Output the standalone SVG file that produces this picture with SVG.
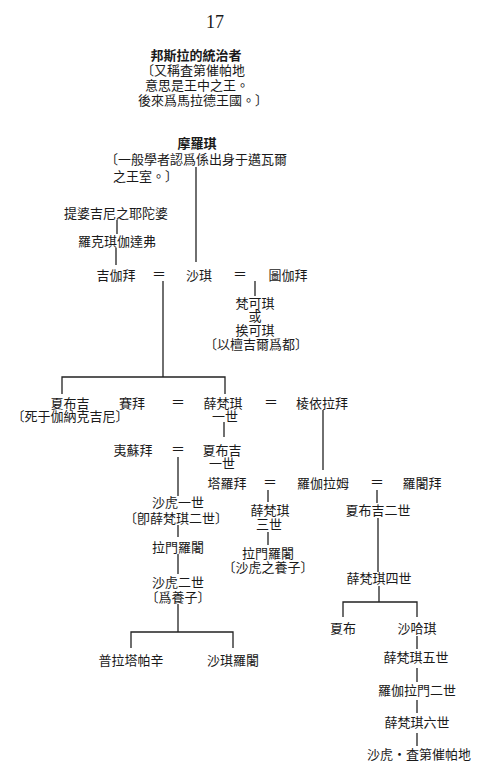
<svg xmlns="http://www.w3.org/2000/svg" width="492" height="772" viewBox="0 0 492 772">
<style>
.t{font-family:"Noto Sans CJK TC","Noto Sans CJK SC",sans-serif;font-size:13px;fill:#1a1a1a;text-anchor:middle}
.s{text-anchor:start}
.b{font-weight:bold}
.eq{font-family:"Noto Sans CJK TC",sans-serif;font-size:14px;fill:#1a1a1a;text-anchor:middle}
.c{fill:none;stroke:#222;stroke-width:1.3}
</style>
<rect width="492" height="772" fill="#fff"/>
<text x="215" y="28" style="font-family:'Liberation Serif',serif;font-size:18px;fill:#1a1a1a;text-anchor:middle">17</text>
<g id="connectors" class="c">
<path d="M196,167V262"/>
<path d="M117,220V234"/>
<path d="M116,248V265"/>
<path d="M255,281V296"/>
<path d="M163,281V377"/>
<path d="M62,394V377H225V394"/>
<path d="M224,422V437"/>
<path d="M323,410V470"/>
<path d="M178,457V496"/>
<path d="M178,525V537"/>
<path d="M178,554V574"/>
<path d="M178,604V632"/>
<path d="M131,648V632H233V648"/>
<path d="M268,490V502"/>
<path d="M268,532V545"/>
<path d="M377,490V503"/>
<path d="M378,518V572"/>
<path d="M379,586V602"/>
<path d="M343,617V602H417V617"/>
<path d="M417,636V649"/>
<path d="M417,668V682"/>
<path d="M417,700V713"/>
<path d="M417,733V746"/>
</g>
<g id="n-header">
<text class="t s"><tspan class="b" x="196" y="60" text-anchor="middle">邦斯拉的統治者</tspan><tspan x="141" y="75">〔又稱査第催帕地</tspan><tspan x="145" y="90">意思是王中之王。</tspan><tspan x="138" y="105">後來爲馬拉德王國。〕</tspan></text>
</g>
<g id="n-moro">
<text class="t s"><tspan class="b" x="197" y="148" text-anchor="middle">摩羅琪</tspan><tspan x="105" y="164">〔一般學者認爲係出身于邁瓦爾</tspan><tspan x="113" y="181">之王室。〕</tspan></text>
</g>
<g id="n-devagiri"><text class="t" x="116" y="218">提婆吉尼之耶陀婆</text></g>
<g id="n-lakhuji"><text class="t" x="117" y="246">羅克琪伽達弗</text></g>
<g id="n-jijabai"><text class="t" x="116" y="280">吉伽拜</text></g>
<g id="eq1"><text class="eq" x="159" y="279">＝</text></g>
<g id="n-shahji"><text class="t" x="199" y="280">沙琪</text></g>
<g id="eq2"><text class="eq" x="240" y="279">＝</text></g>
<g id="n-tukabai"><text class="t" x="288" y="280">圖伽拜</text></g>
<g id="n-venkoji">
<text class="t"><tspan x="255" y="308">梵可琪</tspan><tspan x="255" y="321">或</tspan><tspan x="255" y="335">挨可琪</tspan><tspan x="256" y="349">〔以檀吉爾爲都〕</tspan></text>
</g>
<g id="n-sambhaji-elder">
<text class="t"><tspan x="70" y="408">夏布吉</tspan><tspan x="70" y="421">〔死于伽納克吉尼〕</tspan></text>
</g>
<g id="n-saibai"><text class="t" x="132" y="408">賽拜</text></g>
<g id="eq3"><text class="eq" x="178" y="407">＝</text></g>
<g id="n-shivaji1">
<text class="t"><tspan x="223" y="408">薛梵琪</tspan><tspan x="225" y="421">一世</tspan></text>
</g>
<g id="eq4"><text class="eq" x="271" y="407">＝</text></g>
<g id="n-soyarabai"><text class="t" x="322" y="408">棱依拉拜</text></g>
<g id="n-yesubai"><text class="t" x="133" y="455">夷蘇拜</text></g>
<g id="eq5"><text class="eq" x="178" y="454">＝</text></g>
<g id="n-sambhaji1">
<text class="t"><tspan x="222" y="455">夏布吉</tspan><tspan x="222" y="468">一世</tspan></text>
</g>
<g id="n-tarabai"><text class="t" x="227" y="488">塔羅拜</text></g>
<g id="eq6"><text class="eq" x="270" y="487">＝</text></g>
<g id="n-rajaram"><text class="t" x="323" y="488">羅伽拉姆</text></g>
<g id="eq7"><text class="eq" x="377" y="487">＝</text></g>
<g id="n-rajasbai"><text class="t" x="422" y="488">羅闍拜</text></g>
<g id="n-shahu1">
<text class="t"><tspan x="178" y="507">沙虎一世</tspan><tspan x="176" y="523">〔卽薛梵琪二世〕</tspan></text>
</g>
<g id="n-ramaraja"><text class="t" x="178" y="552">拉門羅闍</text></g>
<g id="n-shahu2">
<text class="t"><tspan x="178" y="587">沙虎二世</tspan><tspan x="178" y="602">〔爲養子〕</tspan></text>
</g>
<g id="n-pratapsinh"><text class="t" x="131" y="665">普拉塔帕辛</text></g>
<g id="n-shahajiraja"><text class="t" x="233" y="665">沙琪羅闍</text></g>
<g id="n-shivaji3">
<text class="t"><tspan x="270" y="515">薛梵琪</tspan><tspan x="269" y="529">三世</tspan></text>
</g>
<g id="n-ramaraja2">
<text class="t"><tspan x="268" y="558">拉門羅闍</tspan><tspan x="268" y="572">〔沙虎之養子〕</tspan></text>
</g>
<g id="n-sambhaji2"><text class="t" x="378" y="515">夏布吉二世</text></g>
<g id="n-shivaji4"><text class="t" x="379" y="583">薛梵琪四世</text></g>
<g id="n-sambhaji3"><text class="t" x="343" y="633">夏布</text></g>
<g id="n-shahaji"><text class="t" x="417" y="633">沙哈琪</text></g>
<g id="n-shivaji5"><text class="t" x="416" y="662">薛梵琪五世</text></g>
<g id="n-rajaram2"><text class="t" x="417" y="695">羅伽拉門二世</text></g>
<g id="n-shivaji6"><text class="t" x="417" y="727">薛梵琪六世</text></g>
<g id="n-shahu-chh"><text class="t" x="419" y="759">沙虎・査第催帕地</text></g>
</svg>
